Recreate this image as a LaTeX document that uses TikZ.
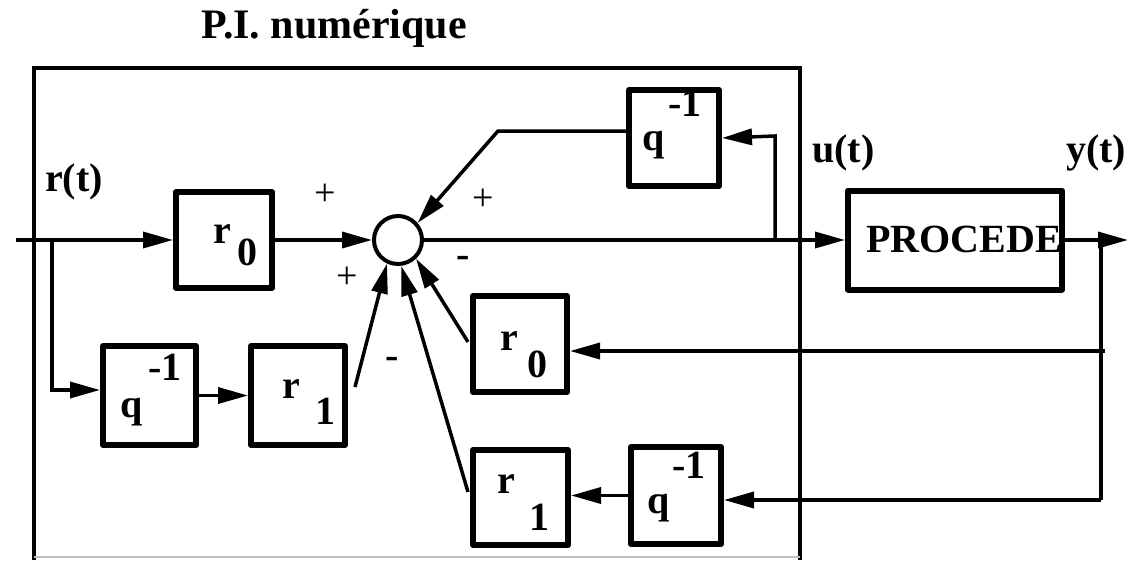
\documentclass[tikz,border=0pt]{standalone}
\usepackage{fontspec}
\setmainfont{Liberation Serif}
\usetikzlibrary{arrows.meta}
\begin{document}
\begin{tikzpicture}[x=1pt,y=-1pt,
  blk/.style={draw,line width=6pt,inner sep=0pt,line join=round},
  wire/.style={line width=3.5pt},
  arr/.style={wire,-{Triangle[length=30pt,width=16pt]}},
  lbl/.style={font=\fontsize{40}{40}\selectfont\bfseries,inner sep=0pt,anchor=base west},
  sgn/.style={font=\fontsize{38}{38}\selectfont,inner sep=0pt},
  msgn/.style={font=\fontsize{40}{40}\selectfont\bfseries,inner sep=0pt},
]
\useasboundingbox (0,0) rectangle (1128,560);
% frame
\draw[wire] (34,560) -- (34,68) -- (800,68) -- (800,560);
\draw[line width=1.5pt,gray!50] (34,557) -- (800,557);
\node[font=\fontsize{42}{42}\selectfont\bfseries,anchor=base,inner sep=0pt] (title) at (334,38) {P.I. numérique};
% blocks
\node[blk,minimum width=96pt,minimum height=96pt] (r0a) at (224,240) {};
\node[blk,minimum width=93pt,minimum height=99pt] (qa) at (149.5,395.5) {};
\node[blk,minimum width=94pt,minimum height=99pt] (r1a) at (298,395.5) {};
\node[blk,minimum width=90pt,minimum height=96pt] (qt) at (674,138) {};
\node[blk,minimum width=94pt,minimum height=96pt] (r0b) at (520,344) {};
\node[blk,minimum width=95pt,minimum height=95pt] (r1b) at (520.5,497.5) {};
\node[blk,minimum width=90pt,minimum height=97pt] (qb) at (676,495.5) {};
\node[blk,minimum width=214pt,minimum height=99pt] (proc) at (955,240) {};
\node[draw,circle,line width=4pt,minimum size=48pt,inner sep=0pt] (sum) at (398,240) {};
% block texts
\node[lbl] (r0at) at (213,243) {r};
\node[lbl] (r0as) at (237,265) {0};
\node[lbl] (qat) at (120,417) {q};
\node[lbl] (qas) at (148,380) {-1};
\node[lbl] (r1at) at (282,398) {r};
\node[lbl] (r1as) at (315,424) {1};
\node[lbl] (qtt) at (642,150) {q};
\node[lbl] (qts) at (668,116) {-1};
\node[lbl] (r0bt) at (500,350) {r};
\node[lbl] (r0bs) at (527,377) {0};
\node[lbl] (r1bt) at (497,493) {r};
\node[lbl] (r1bs) at (529,530) {1};
\node[lbl] (qbt) at (647,513) {q};
\node[lbl] (qbs) at (672,478) {-1};
\node[lbl] (proct) at (866,252) {PROCEDE};
% signal labels
\node[lbl] (rt) at (45,191) {r(t)};
\node[lbl] (ut) at (812,162) {u(t)};
\node[lbl] (yt) at (1066,162) {y(t)};
\node[sgn] (p1) at (325,195) {+};
\node[sgn] (p2) at (347,278) {+};
\node[sgn] (p3) at (483,200) {+};
\node[msgn] (m1) at (463,262) {-};
\node[msgn] (m2) at (392,363) {-};
% connectors
\coordinate (in) at (16,240);
\draw[arr] (in) -- (r0a.west);
\coordinate (b1) at (52,240);
\coordinate (b2) at (52,390);
\draw[arr] (b1) -- (b2) -- (qa.west|-b2);
\draw[arr] (r0a.east) -- (sum.west);
\draw[arr] (qa.east) -- (r1a.west);
\coordinate (c1) at (355,387);
\draw[arr] (c1) -- (sum.-115);
\coordinate (c2) at (468,492);
\draw[arr] (c2) -- (sum.-83);
\coordinate (c3) at (468,342);
\draw[arr] (c3) -- (sum.-46);
\coordinate (t1) at (498,131);
\draw[arr] (qt.west|-t1) -- (t1) -- (sum.41);
\draw[arr] (sum.east) -- (proc.west);
\coordinate (u1) at (775,240);
\coordinate (u2) at (775,136);
\draw[arr] (u1) -- (u2) -- (qt.east);
\coordinate (yout) at (1128,240);
\draw[arr] (proc.east) -- (yout);
\coordinate (y1) at (1101,240);
\coordinate (y2) at (1101,500);
\draw[wire] (y1) -- (y2);
\coordinate (y3) at (1105,351);
\draw[arr] (y3) -- (r0b.east|-y3);
\draw[arr] (y2) -- (qb.east|-y2);
\draw[arr] (qb.west) -- (r1b.east|-qb.west);
\end{tikzpicture}
\end{document}
